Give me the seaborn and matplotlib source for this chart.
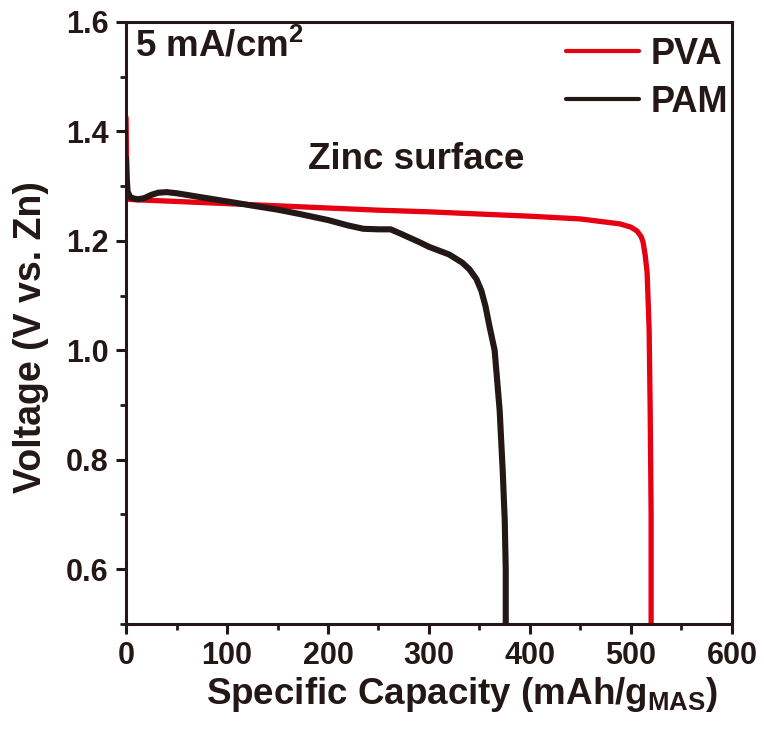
import numpy as np
import pandas as pd
import matplotlib
matplotlib.use("Agg")
import matplotlib.pyplot as plt
from matplotlib.lines import Line2D
from matplotlib.ticker import MultipleLocator
import seaborn as sns

# ---- data ----
pva_capacity = [0, 0.5, 1, 2, 10, 50, 100, 150, 200, 250, 300, 350, 400, 450,
                489, 500, 506, 510, 512, 514, 516, 518, 519, 520, 520]
pva_voltage = [1.425, 1.34, 1.29, 1.276, 1.275, 1.272, 1.268, 1.264, 1.260, 1.256,
               1.253, 1.249, 1.245, 1.240, 1.231, 1.225, 1.218, 1.208, 1.198,
               1.175, 1.143, 1.04, 0.90, 0.70, 0.50]

pam_capacity = [0, 0.5, 1.5, 4, 8, 12, 18, 25, 32, 40, 50, 60, 80, 100, 123, 150,
                172, 200, 220, 235, 250, 262, 272, 290, 300, 320, 333, 340, 347,
                352, 356, 360, 365, 370, 373, 375, 376, 376]
pam_voltage = [1.352, 1.32, 1.29, 1.28, 1.277, 1.276, 1.278, 1.284, 1.288, 1.289,
               1.287, 1.284, 1.278, 1.272, 1.265, 1.257, 1.249, 1.238, 1.228,
               1.222, 1.221, 1.221, 1.213, 1.198, 1.189, 1.175, 1.160, 1.148,
               1.130, 1.108, 1.080, 1.043, 1.00, 0.89, 0.78, 0.69, 0.60, 0.50]

series_names = ["PVA", "PAM"]
colors = {"PVA": "#E60012", "PAM": "#231815"}
y_ticks = [0.6, 0.8, 1.0, 1.2, 1.4, 1.6]
y_tick_labels = ["0.6", "0.8", "1.0", "1.2", "1.4", "1.6"]

df = pd.concat([
    pd.DataFrame({"Capacity": pva_capacity, "Voltage": pva_voltage, "Sample": "PVA"}),
    pd.DataFrame({"Capacity": pam_capacity, "Voltage": pam_voltage, "Sample": "PAM"}),
], ignore_index=True)

sns.set_theme(style="ticks")
plt.rcParams["font.family"] = ["Liberation Sans", "DejaVu Sans"]
plt.rcParams["font.weight"] = "bold"
plt.rcParams["mathtext.fontset"] = "custom"
plt.rcParams["mathtext.rm"] = "Liberation Sans:bold"
plt.rcParams["mathtext.bf"] = "Liberation Sans:bold"
plt.rcParams["mathtext.it"] = "Liberation Sans:bold"

ink = "#231815"
fig = plt.figure(figsize=(7.64, 7.33), dpi=100)
ax = fig.add_axes([0.165, 0.149, 0.793, 0.821])

for name, lw in [("PVA", 3.8), ("PAM", 4.4)]:
    sub = df[df["Sample"] == name]
    sns.lineplot(data=sub, x="Capacity", y="Voltage", sort=False, estimator=None,
                 color=colors[name], linewidth=lw, ax=ax, legend=False)

ax.set_xlim(0, 600)
ax.set_ylim(0.5, 1.6)
ax.xaxis.set_major_locator(MultipleLocator(100))
ax.xaxis.set_minor_locator(MultipleLocator(50))
ax.yaxis.set_minor_locator(MultipleLocator(0.1))
ax.set_yticks(y_ticks)
ax.set_yticklabels(y_tick_labels)

for sp in ax.spines.values():
    sp.set_linewidth(2.2)
    sp.set_color(ink)
ax.tick_params(which="major", direction="out", length=7.5, width=2.2, color=ink,
               labelsize=22, labelcolor=ink, pad=5)
ax.tick_params(which="minor", direction="out", length=4.5, width=2.0, color=ink)
for lab in ax.get_xticklabels() + ax.get_yticklabels():
    lab.set_fontweight("bold")

ax.set_xlabel(r"Specific Capacity (mAh/g$_{\mathbf{MAS}}$)", fontsize=26.5,
              fontweight="bold", color=ink)
ax.set_ylabel("Voltage (V vs. Zn)", fontsize=27, fontweight="bold", color=ink)
ax.xaxis.set_label_coords(0.554, -0.085)
ax.yaxis.set_label_coords(-0.127, 0.477)

ax.text(9, 1.555, r"5 mA/cm$^{\mathbf{2}}$", fontsize=26.5, fontweight="bold",
        color=ink, ha="left", va="center")
ax.text(287, 1.349, "Zinc surface", fontsize=26.5, fontweight="bold", color=ink,
        ha="center", va="center")

handles = [Line2D([], [], color=colors[n], linewidth=3) for n in series_names]
leg = ax.legend(handles, series_names, loc="upper right", frameon=False,
                bbox_to_anchor=(1.012, 0.995),
                fontsize=26, handlelength=2.0, labelspacing=0.36,
                borderaxespad=0.22, handletextpad=0.32, borderpad=0.1)
for t in leg.get_texts():
    t.set_fontweight("bold")
    t.set_color(ink)

fig.savefig("out.png", dpi=100)
